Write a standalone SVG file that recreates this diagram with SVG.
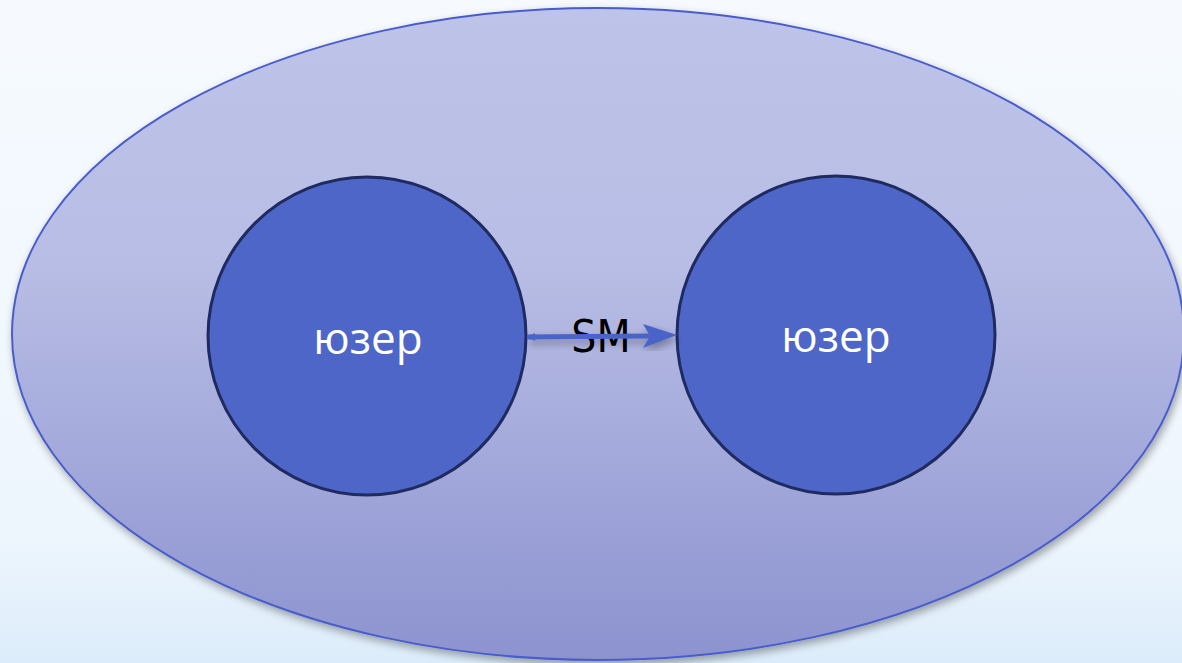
<svg xmlns="http://www.w3.org/2000/svg" width="1182" height="663" viewBox="0 0 1182 663">
<defs>
<linearGradient id="bg" x1="0" y1="0" x2="0" y2="1">
<stop offset="0" stop-color="#f6faff"/>
<stop offset="0.8" stop-color="#eef6fd"/>
<stop offset="1" stop-color="#dcecfa"/>
</linearGradient>
<linearGradient id="ell" x1="0" y1="0" x2="0" y2="1">
<stop offset="0" stop-color="#bec3e9"/>
<stop offset="0.4" stop-color="#b8bde5"/>
<stop offset="1" stop-color="#8c93cf"/>
</linearGradient>
<filter id="sh" x="-10%" y="-10%" width="120%" height="120%">
<feGaussianBlur in="SourceAlpha" stdDeviation="4"/>
<feOffset dx="2" dy="4"/>
<feComponentTransfer><feFuncA type="linear" slope="0.35"/></feComponentTransfer>
<feMerge><feMergeNode/><feMergeNode in="SourceGraphic"/></feMerge>
</filter>
<style>
.user circle{fill:#4d66c8;stroke:#1f2b60;stroke-width:3}
.user text{fill:#ffffff;font-family:"Open Sans","DejaVu Sans",sans-serif;font-size:44px;text-anchor:middle}
</style>
</defs>
<rect width="1182" height="663" fill="url(#bg)"/>
<g id="group">
<ellipse cx="598" cy="334" rx="586" ry="326" fill="url(#ell)" stroke="#4a5ccc" stroke-width="2" filter="url(#sh)"/>
</g>
<g id="user1" class="user">
<circle cx="367" cy="336" r="159"/>
<text x="368" y="354">юзер</text>
</g>
<g id="user2" class="user">
<circle cx="836" cy="335" r="159"/>
<text x="836" y="352">юзер</text>
</g>
<g id="connectors">
<text x="601" y="352" font-family="'DejaVu Sans Condensed','DejaVu Sans',sans-serif" font-size="44" text-anchor="middle" fill="#000000">SM</text>
<g filter="url(#sh)">
<path d="M527,337 L535,333 L535,341 Z" fill="#4a63c8"/>
<line x1="527" y1="337" x2="650" y2="336" stroke="#4a63c8" stroke-width="5"/>
<path d="M643,324 L677,335 L643,348 L650,336 Z" fill="#4a63c8"/>
</g>
</g>
</svg>
